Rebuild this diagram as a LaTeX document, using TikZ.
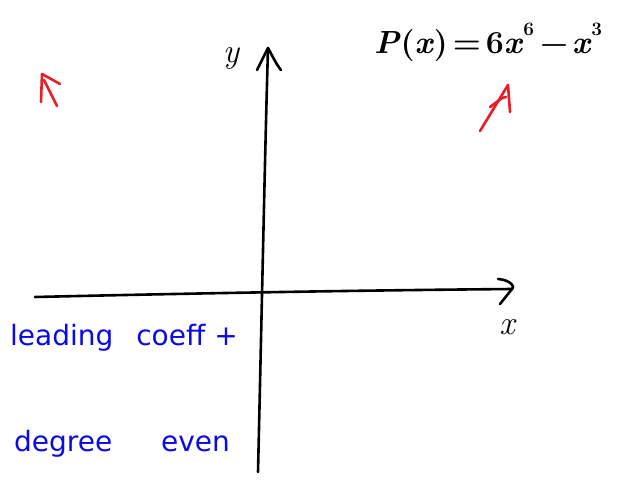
\documentclass[tikz,border=0pt]{standalone}
\usepackage{fontspec}
\setsansfont{DejaVu Sans}
\newcommand{\supnum}[1]{\raisebox{0.55em}{\fontsize{19}{19}\selectfont #1}}
\begin{document}
\begin{tikzpicture}[x=1pt,y=-1pt,
  pen/.style={line width=2.6pt,line cap=round,line join=round},
  redpen/.style={pen,draw={rgb,255:red,235;green,28;blue,36}},
  lbl/.style={inner sep=0pt,font=\fontsize{34}{36}\selectfont\itshape},
  bluelbl/.style={inner sep=0pt,anchor=west,text={rgb,255:red,10;green,10;blue,230},font=\sffamily\fontsize{28}{32}\selectfont}]
\useasboundingbox (0,0) rectangle (617,479);
% axes
\coordinate (xl) at (35,297);
\coordinate (xr) at (512,289);
\coordinate (yb) at (258,472);
\coordinate (yt) at (268,48);
\draw[pen] (xl) .. controls (250,292) and (400,290) .. (xr);
\draw[pen] (498,279) .. controls (512,280) and (515,288) .. (xr) -- (500,304);
\draw[pen] (yb) .. controls (262,300) and (265,150) .. (yt);
\draw[pen] (257,70) -- (yt) .. controls (272,55) and (276,64) .. (281,70);
% axis labels
\node[lbl] (ylab) at (231,58) {y};
\node[lbl] (xlab) at (507,327) {x};
% polynomial
\node[inner sep=0pt,anchor=base west,font=\fontsize{32}{34}\selectfont\bfseries] (poly) at (374,53)
  {\textit{P}(\textit{x})\hspace{5pt}=\hspace{5pt}6\textit{x}\supnum{6}\hspace{6pt}−\hspace{4pt}\textit{x}\supnum{3}};
% red arrows
\draw[redpen] (41,102) -- (42,74) -- (60,84);
\draw[redpen] (44,80) -- (57,106);
\draw[redpen] (480,131) -- (508,85) -- (510,112);
\draw[redpen] (490,107) -- (502,98) -- (506,97);
% blue text
\node[bluelbl] (lead) at (10,338) {leading\hspace{14pt} coeff +};
\node[bluelbl] (deg) at (14,444) {degree\hspace{40pt} even};
\end{tikzpicture}
\end{document}
